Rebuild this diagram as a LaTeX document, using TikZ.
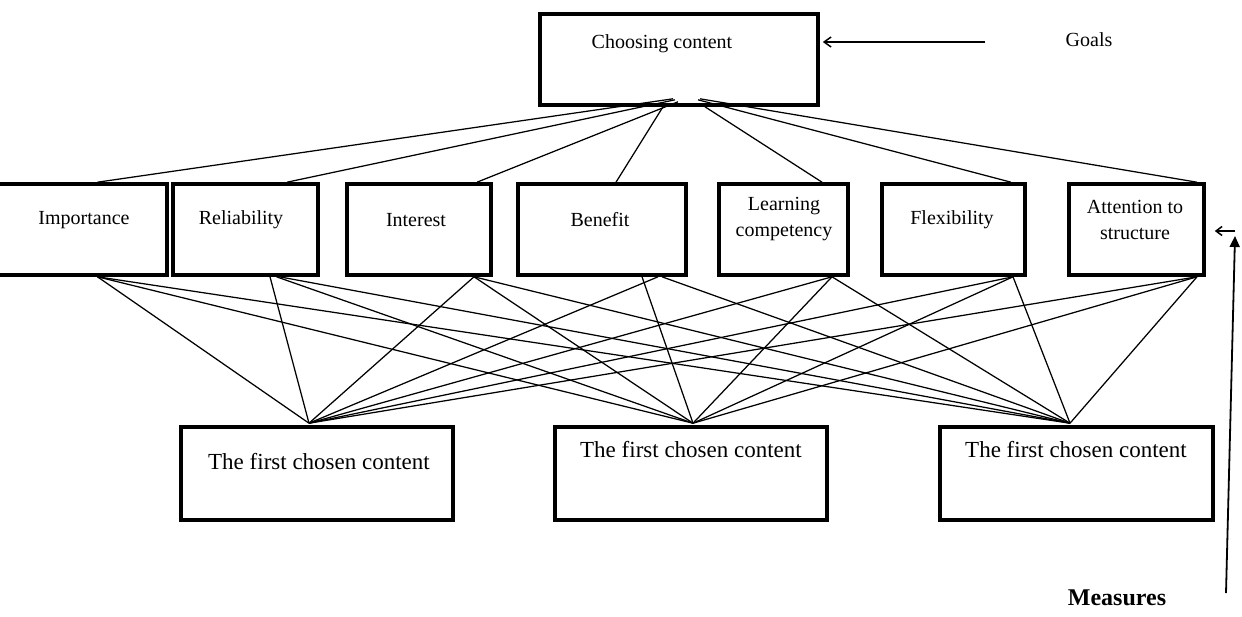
\documentclass[tikz,border=0pt]{standalone}
\usepackage{fontspec}
\setmainfont{Liberation Serif}
\usetikzlibrary{arrows.meta}
\begin{document}
\begin{tikzpicture}[x=1pt,y=-1pt,
  box/.style={draw, line width=3.6pt, inner sep=0pt},
  lbl/.style={inner sep=0pt, align=center, font=\fontsize{20}{26}\selectfont},
  blbl/.style={inner sep=0pt, font=\fontsize{23}{28}\selectfont},
  conn/.style={line width=1.25pt},
  arr/.style={line width=1.5pt}]
\useasboundingbox (0,0) rectangle (1242,616);
\clip (0,0) rectangle (1242,616);
% boxes
\node[box, minimum width=278pt, minimum height=91pt] (top) at (679,59.5) {};
\node[box, minimum width=177pt, minimum height=91pt] (imp) at (78.5,229.5) {};
\node[box, minimum width=145pt, minimum height=91pt] (rel) at (245.5,229.5) {};
\node[box, minimum width=144pt, minimum height=91pt] (int) at (419,229.5) {};
\node[box, minimum width=168pt, minimum height=91pt] (ben) at (602,229.5) {};
\node[box, minimum width=129pt, minimum height=91pt] (lea) at (783.5,229.5) {};
\node[box, minimum width=143pt, minimum height=91pt] (fle) at (953.5,229.5) {};
\node[box, minimum width=135pt, minimum height=91pt] (att) at (1136.5,229.5) {};
\node[box, minimum width=272pt, minimum height=93pt] (bA) at (317,473.5) {};
\node[box, minimum width=272pt, minimum height=93pt] (bB) at (691,473.5) {};
\node[box, minimum width=273pt, minimum height=93pt] (bC) at (1076.5,473.5) {};
% labels
\node[lbl] (tTop) at (662,44) {Choosing content};
\node[lbl] (tGoals) at (1089,40) {Goals};
\node[lbl] (tImp) at (84,220) {Importance};
\node[lbl] (tRel) at (241,220) {Reliability};
\node[lbl] (tInt) at (416,220) {Interest};
\node[lbl] (tBen) at (600,220) {Benefit};
\node[lbl] (tLea) at (784,219) {Learning\\competency};
\node[lbl] (tFle) at (952,220) {Flexibility};
\node[lbl] (tAtt) at (1135,220) {Attention to\\structure};
\node[blbl] (tA) at (319,462) {The first chosen content};
\node[blbl] (tB) at (691,450) {The first chosen content};
\node[blbl] (tC) at (1076,450) {The first chosen content};
\node[inner sep=0pt, font=\fontsize{24}{28}\selectfont\bfseries] (tMeas) at (1117,598) {Measures};
% top connectors
\draw[conn] ([shift={(-6,-8)}]top.south) -- ([shift={(19,0)}]imp.north);
\draw[conn] ([shift={(-4,-7)}]top.south) -- ([shift={(41.5,0)}]rel.north);
\draw[conn] ([shift={(-1,-5)}]top.south) -- ([shift={(58,0)}]int.north);
\draw[conn] ([shift={(-16,0)}]top.south) -- ([shift={(14,0)}]ben.north);
\draw[conn] ([shift={(26,0)}]top.south) -- ([shift={(38.5,0)}]lea.north);
\draw[conn] ([shift={(19,-7)}]top.south) -- ([shift={(57.5,0)}]fle.north);
\draw[conn] ([shift={(21,-8)}]top.south) -- ([shift={(60.5,0)}]att.north);
% bottom connectors
\foreach \m/\dx in {imp/19, int/55, lea/48.5, fle/59.5, att/60.5} {
  \draw[conn] ([shift={(\dx,0)}]\m.south) -- ([shift={(-8,-2)}]bA.north);
  \draw[conn] ([shift={(\dx,0)}]\m.south) -- ([shift={(2,-2)}]bB.north);
  \draw[conn] ([shift={(\dx,0)}]\m.south) -- ([shift={(-6.5,-2)}]bC.north);
}
\draw[conn] ([shift={(24.5,0)}]rel.south) -- ([shift={(-8,-2)}]bA.north);
\draw[conn] ([shift={(31,0)}]rel.south) -- ([shift={(2,-2)}]bB.north);
\draw[conn] ([shift={(34,0)}]rel.south) -- ([shift={(-6.5,-2)}]bC.north);
\draw[conn] ([shift={(56,0)}]ben.south) -- ([shift={(-8,-2)}]bA.north);
\draw[conn] ([shift={(40,0)}]ben.south) -- ([shift={(2,-2)}]bB.north);
\draw[conn] ([shift={(60,0)}]ben.south) -- ([shift={(-6.5,-2)}]bC.north);
% arrows
\coordinate (gStart) at (985,42);
\draw[arr, -{Straight Barb[length=7pt,width=10pt]}] (gStart) -- ([shift={(3,-17.5)}]top.east);
\coordinate (mBot) at (1226,593);
\coordinate (mTop) at (1235,236);
\coordinate (mCorner) at (1235,231);
\draw[arr, line width=1.8pt, -{Triangle[length=11pt,width=10pt]}] (mBot) -- (mTop);
\draw[arr, -{Straight Barb[length=6pt,width=9pt]}] (mCorner) -- ([shift={(9,1.5)}]att.east);
\end{tikzpicture}
\end{document}
